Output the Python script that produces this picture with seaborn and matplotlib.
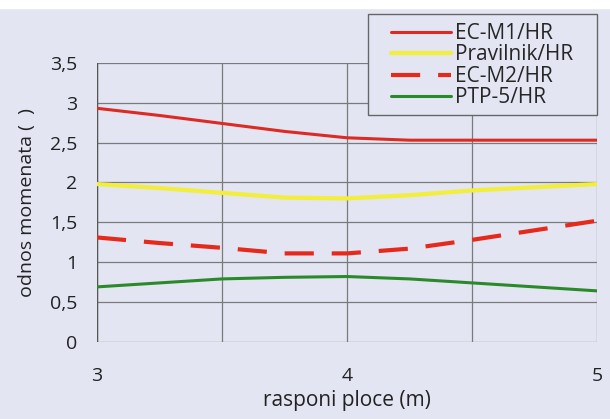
import numpy as np
import pandas as pd
import seaborn as sns
import matplotlib
matplotlib.use("Agg")
import matplotlib.pyplot as plt

# spans (m) and moment ratios
spans = [3.0, 3.25, 3.5, 3.75, 4.0, 4.25, 4.5, 4.75, 5.0]
ec_m1 = [2.93, 2.84, 2.74, 2.64, 2.56, 2.53, 2.53, 2.53, 2.53]
pravilnik = [1.98, 1.93, 1.87, 1.81, 1.80, 1.84, 1.90, 1.94, 1.98]
ec_m2 = [1.31, 1.24, 1.18, 1.11, 1.11, 1.17, 1.28, 1.40, 1.52]
ptp5 = [0.69, 0.74, 0.79, 0.81, 0.82, 0.79, 0.74, 0.69, 0.64]

series_names = ["EC-M1/HR", "Pravilnik/HR", "EC-M2/HR", "PTP-5/HR"]
series_colors = ["#dd2a22", "#f2ee3a", "#e52a1c", "#2a8a2a"]

bg = "#e3e5f3"

sns.set_style("whitegrid")
plt.rcParams["font.family"] = ["Open Sans", "DejaVu Sans"]

fig = plt.figure(figsize=(6.1, 4.19), dpi=100, facecolor=bg)
ax = fig.add_axes([0.159, 0.184, 0.820, 0.666])
ax.set_facecolor(bg)

# white strip at the very top of the scan
fig.patches.append(plt.Rectangle((0, 0.982), 1, 0.02, transform=fig.transFigure,
                                 color="white", zorder=0))

df = pd.DataFrame({"span": spans, series_names[0]: ec_m1, series_names[1]: pravilnik,
                   series_names[2]: ec_m2, series_names[3]: ptp5})

for i, name in enumerate(series_names):
    sns.lineplot(data=df, x="span", y=name, ax=ax, color=series_colors[i],
                 linewidth=3 if i in (1, 2) else 2.2, label=name)

ax.lines[2].set_dashes([7, 4.3])

ax.set_xlim(3, 5)
ax.set_ylim(0, 3.5)
ax.set_xticks([3, 3.5, 4, 4.5, 5])
ax.set_xticklabels(["3", "", "4", "", "5"])
ax.set_yticks(np.arange(0, 3.51, 0.5))
ax.set_yticklabels(["0", "0,5", "1", "1,5", "2", "2,5", "3", "3,5"])

ax.grid(True, color="#7a7a7a", linewidth=0.9)
for s in ax.spines.values():
    s.set_visible(False)
ax.axvline(3, color="#555555", linewidth=1.0, zorder=1)

ax.tick_params(axis="both", labelsize=14, colors="#222222", length=6, width=0.9)
ax.tick_params(axis="x", pad=12, color="#555555")
ax.tick_params(axis="y", pad=8, color="#555555")

ax.set_xlabel("rasponi ploce (m)", fontsize=15, color="#222222", labelpad=4)
ax.set_ylabel("odnos momenata (  )", fontsize=14, color="#222222", labelpad=10)

# legend box drawn on its own, legend entries placed inside it
fig.patches.append(plt.Rectangle((0.603, 0.726), 0.376, 0.241, transform=fig.transFigure,
                                 facecolor=bg, edgecolor="#666666", linewidth=1.0,
                                 zorder=5))
leg = ax.legend(loc="upper left", bbox_to_anchor=(0.641, 0.945),
                bbox_transform=fig.transFigure, fontsize=15, frameon=False,
                handlelength=2.9, handletextpad=0.15, labelspacing=0.02,
                borderpad=0, borderaxespad=0)
leg.set_zorder(6)
fig.legends.append(leg)

fig.savefig("out.png", dpi=100, facecolor=bg)
